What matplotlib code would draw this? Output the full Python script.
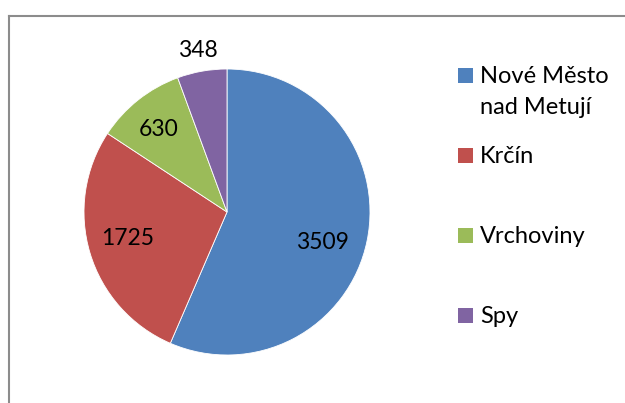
import numpy as np
import matplotlib
matplotlib.use("Agg")
import matplotlib.pyplot as plt
from matplotlib.lines import Line2D
from matplotlib.patches import Rectangle

labels = ["Nové Město\nnad Metují", "Krčín", "Vrchoviny", "Spy"]
values = [3509, 1725, 630, 348]
colors = ["#4F81BD", "#C0504D", "#9BBB59", "#8064A2"]

plt.rcParams['font.family'] = ['Lato', 'DejaVu Sans']

W, H = 625, 403
fig = plt.figure(figsize=(W / 100, H / 100), dpi=100)

# pie centre (227, 212) px, radius 143 px ; pie() uses limits +-1.25
cx, cy, r = 227, 212, 143
half = r * 1.25
ax = fig.add_axes([(cx - half) / W, (H - cy - half) / H, 2 * half / W, 2 * half / H])
wedges, _ = ax.pie(values, colors=colors, startangle=90, counterclock=False,
                   wedgeprops=dict(edgecolor="white", linewidth=0.6))
ax.set_aspect("equal")

# data labels
dist = [0.70, 0.72, 0.75, 1.15]
dang = [-6, -2, 1, 0]
for w, v, d, da in zip(wedges, values, dist, dang):
    th = np.deg2rad((w.theta1 + w.theta2) / 2 + da)
    ax.text(d * np.cos(th), d * np.sin(th), str(v), ha="center", va="center",
            fontsize=16.5, color="black")

# legend drawn by hand, Excel style
lx, ly0, step, sz, lh = 458, 68, 80, 15, 31
for i, (lab, col) in enumerate(zip(labels, colors)):
    top = ly0 + i * step
    fig.add_artist(Rectangle((lx / W, 1 - (top + sz) / H), sz / W, sz / H,
                             transform=fig.transFigure, facecolor=col, edgecolor="none"))
    for j, line in enumerate(lab.split("\n")):
        fig.text((lx + 22) / W, 1 - (top + sz + j * lh) / H, line, ha="left",
                 va="baseline", fontsize=17, color="black")

# chart frame (cut off at right and bottom)
lc = "#8c8c8c"
fig.add_artist(Line2D([8.5 / W, 8.5 / W], [0, 1 - 15.5 / H], color=lc, lw=1.5,
                      transform=fig.transFigure))
fig.add_artist(Line2D([8.5 / W, 1], [1 - 15.5 / H, 1 - 15.5 / H], color=lc, lw=1.5,
                      transform=fig.transFigure))

fig.savefig("out.png", dpi=100)
